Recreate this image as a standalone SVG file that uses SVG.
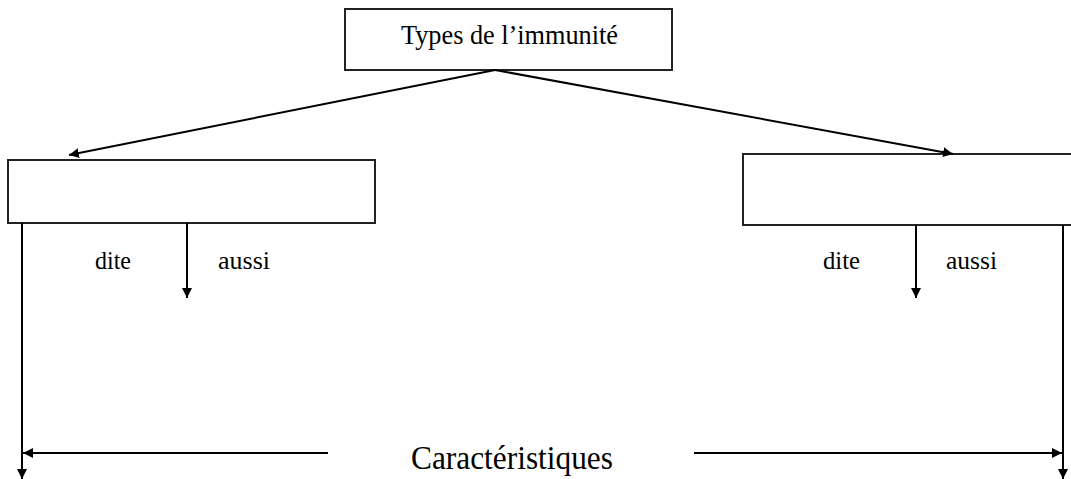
<svg xmlns="http://www.w3.org/2000/svg" width="1071" height="479" viewBox="0 0 1071 479">
  <defs>
    <marker id="arrow" viewBox="0 0 10 10" refX="10" refY="5" markerWidth="10" markerHeight="10" markerUnits="userSpaceOnUse" orient="auto">
      <path d="M0,0 L10,5 L0,10 Z" fill="#000"/>
    </marker>
  </defs>
  <style>
    .box { fill: #fff; stroke: #222; stroke-width: 2; }
    .line { stroke: #000; stroke-width: 2; fill: none; }
    .arr { marker-end: url(#arrow); }
    .lbl { font-family: "Liberation Serif", "Times New Roman", serif; fill: #000; }
    .small { font-size: 25px; }
  </style>
  <rect width="1071" height="479" fill="#fff"/>

  <g id="node-types">
    <rect class="box" x="345" y="9" width="327" height="61"/>
    <text class="lbl" x="401" y="44" font-size="28" textLength="217" lengthAdjust="spacingAndGlyphs">Types de l’immunité</text>
  </g>

  <g id="node-left">
    <rect class="box" x="8" y="160" width="367" height="63"/>
  </g>

  <g id="node-right">
    <rect class="box" x="743" y="154" width="340" height="71"/>
  </g>

  <g id="labels">
    <text class="lbl small" x="95" y="269" textLength="36" lengthAdjust="spacingAndGlyphs">dite</text>
    <text class="lbl small" x="218" y="269" textLength="52" lengthAdjust="spacingAndGlyphs">aussi</text>
    <text class="lbl small" x="823" y="269" textLength="37" lengthAdjust="spacingAndGlyphs">dite</text>
    <text class="lbl small" x="946" y="269" textLength="51" lengthAdjust="spacingAndGlyphs">aussi</text>
    <text class="lbl" x="411" y="469" font-size="34" textLength="202" lengthAdjust="spacingAndGlyphs">Caractéristiques</text>
  </g>

  <g id="connectors">
    <line class="line arr" x1="495" y1="70" x2="69" y2="155"/>
    <line class="line arr" x1="495" y1="70" x2="953" y2="154"/>
    <line class="line arr" x1="187" y1="223" x2="187" y2="298"/>
    <line class="line arr" x1="916" y1="225" x2="916" y2="298"/>
    <line class="line arr" x1="22" y1="223" x2="22" y2="479"/>
    <line class="line arr" x1="1063" y1="225" x2="1063" y2="479"/>
    <line class="line arr" x1="328" y1="453" x2="23" y2="453"/>
    <line class="line arr" x1="694" y1="453" x2="1062" y2="453"/>
  </g>
</svg>
